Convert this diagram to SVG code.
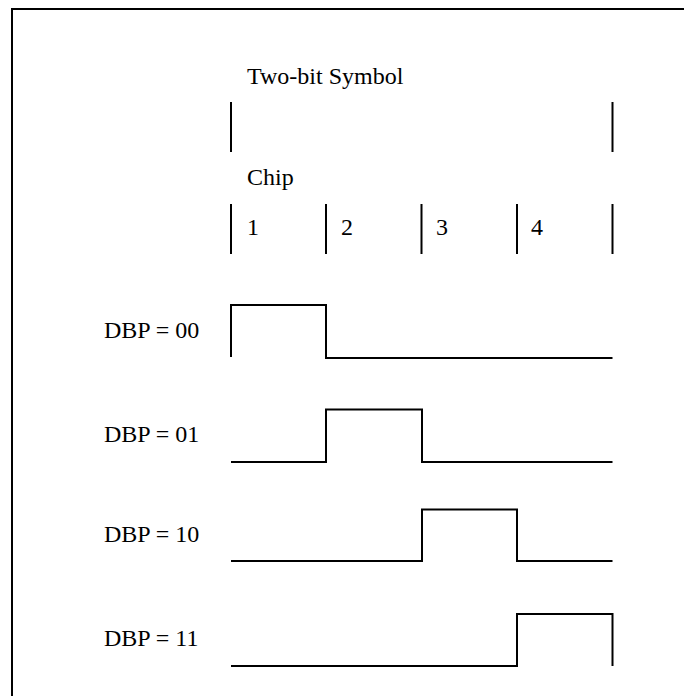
<svg xmlns="http://www.w3.org/2000/svg" width="684" height="696" viewBox="0 0 684 696">
<style>
  .ln { fill: none; stroke: #000; stroke-width: 2; }
  .t { font-family: "Liberation Serif", "Times New Roman", serif; font-size: 24px; fill: #000; }
</style>
<rect width="684" height="696" fill="#fff"/>
<g id="border">
  <path class="ln" d="M12,696 V9 H684"/>
</g>
<g id="symbol">
  <text class="t" x="247" y="84">Two-bit Symbol</text>
  <path class="ln" d="M231,102 V152 M612.5,102 V152"/>
</g>
<g id="chips">
  <text class="t" x="247" y="185">Chip</text>
  <path class="ln" d="M231,204 V254 M326,204 V254 M421.5,204 V254 M517,204 V254 M612.5,204 V254"/>
  <text class="t" x="247" y="235">1</text>
  <text class="t" x="341" y="235">2</text>
  <text class="t" x="436" y="235">3</text>
  <text class="t" x="531" y="235">4</text>
</g>
<g id="dbp00">
  <text class="t" x="104" y="337.5">DBP = 00</text>
  <path class="ln" d="M231,357 V305 H326 V358 H612.5"/>
</g>
<g id="dbp01">
  <text class="t" x="104" y="442">DBP = 01</text>
  <path class="ln" d="M231,462 H326 V409.5 H422 V462 H612.5"/>
</g>
<g id="dbp10">
  <text class="t" x="104" y="542">DBP = 10</text>
  <path class="ln" d="M231,561 H422 V509.5 H517 V561 H612.5"/>
</g>
<g id="dbp11">
  <text class="t" x="104" y="646">DBP = 11</text>
  <path class="ln" d="M231,666 H517 V614 H612.5 V666"/>
</g>
</svg>
